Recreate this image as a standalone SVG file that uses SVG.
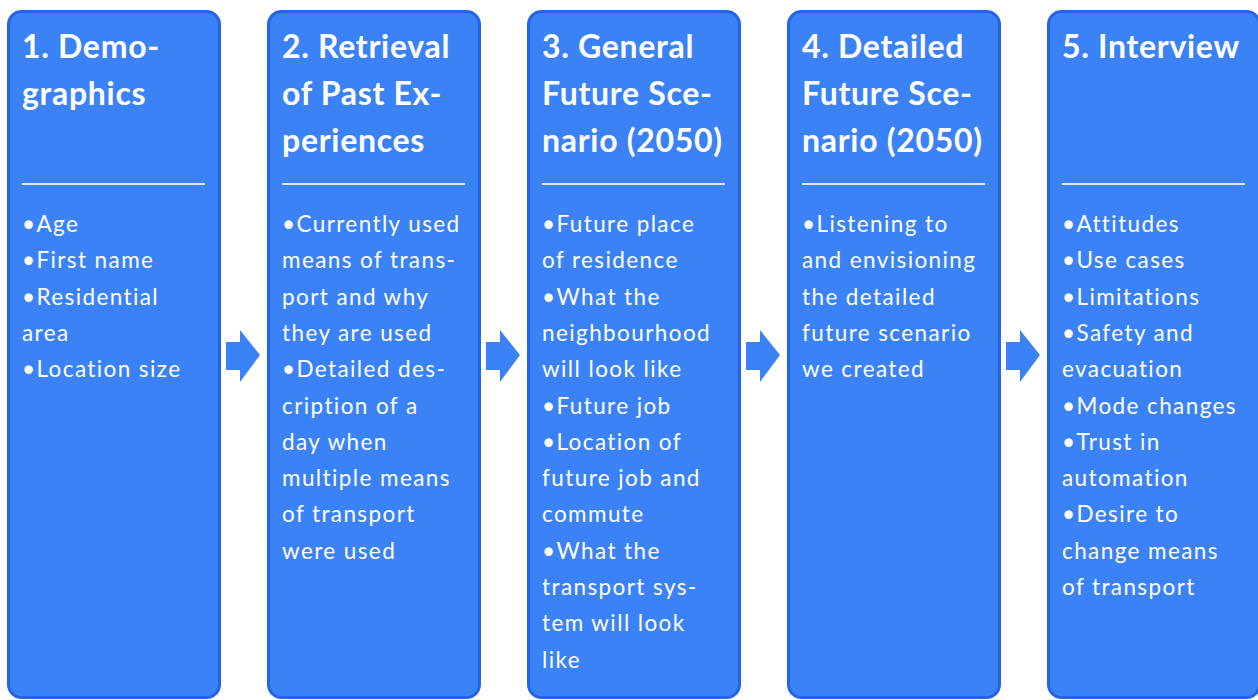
<svg xmlns="http://www.w3.org/2000/svg" width="1258" height="700" viewBox="0 0 1258 700">
  <style>
    .box { fill: #3b82f6; stroke: #2563eb; stroke-width: 3; }
    .sep { stroke: #dbeafe; stroke-width: 2; }
    .title { font-family: Lato, "Open Sans", sans-serif; font-weight: bold; font-size: 32px; letter-spacing: 0.7px; fill: #ffffff; }
    .body { font-family: Lato, "Open Sans", sans-serif; font-size: 22.5px; letter-spacing: 1.4px; fill: #ffffff; }
    .arrow { fill: #3b82f6; }
  </style>
  <defs>
    <!-- block arrow pointing right, origin at the shaft's left end -->
    <path id="step-arrow" class="arrow" d="M0,-13 L14,-13 L14,-25 L34,0 L14,27 L14,15 L0,15 Z"/>
  </defs>

  <!-- connectors between the steps -->
  <g id="connectors">
    <use href="#step-arrow" x="226" y="355"/>
    <use href="#step-arrow" x="486" y="355"/>
    <use href="#step-arrow" x="746" y="355"/>
    <use href="#step-arrow" x="1006" y="355"/>
  </g>

  <g id="step1">
    <rect class="box" x="8.5" y="11.5" width="211" height="686" rx="13"/>
    <text class="title"><tspan x="22" y="58">1. Demo-</tspan><tspan x="22" y="105">graphics</tspan></text>
    <line class="sep" x1="22" y1="184" x2="205" y2="184"/>
    <text class="body">
      <tspan x="22" y="232">•Age</tspan>
      <tspan x="22" y="268.3">•First name</tspan>
      <tspan x="22" y="304.6">•Residential</tspan>
      <tspan x="22" y="340.9">area</tspan>
      <tspan x="22" y="377.2">•Location size</tspan>
    </text>
  </g>

  <g id="step2">
    <rect class="box" x="268.5" y="11.5" width="211" height="686" rx="13"/>
    <text class="title"><tspan x="282" y="58">2. Retrieval</tspan><tspan x="282" y="105">of Past Ex-</tspan><tspan x="282" y="152">periences</tspan></text>
    <line class="sep" x1="282" y1="184" x2="465" y2="184"/>
    <text class="body">
      <tspan x="282" y="232">•Currently used</tspan>
      <tspan x="282" y="268.3">means of trans-</tspan>
      <tspan x="282" y="304.6">port and why</tspan>
      <tspan x="282" y="340.9">they are used</tspan>
      <tspan x="282" y="377.2">•Detailed des-</tspan>
      <tspan x="282" y="413.5">cription of a</tspan>
      <tspan x="282" y="449.8">day when</tspan>
      <tspan x="282" y="486.1">multiple means</tspan>
      <tspan x="282" y="522.4">of transport</tspan>
      <tspan x="282" y="558.7">were used</tspan>
    </text>
  </g>

  <g id="step3">
    <rect class="box" x="528.5" y="11.5" width="211" height="686" rx="13"/>
    <text class="title"><tspan x="542" y="58">3. General</tspan><tspan x="542" y="105">Future Sce-</tspan><tspan x="542" y="152">nario (2050)</tspan></text>
    <line class="sep" x1="542" y1="184" x2="725" y2="184"/>
    <text class="body">
      <tspan x="542" y="232">•Future place</tspan>
      <tspan x="542" y="268.3">of residence</tspan>
      <tspan x="542" y="304.6">•What the</tspan>
      <tspan x="542" y="340.9">neighbourhood</tspan>
      <tspan x="542" y="377.2">will look like</tspan>
      <tspan x="542" y="413.5">•Future job</tspan>
      <tspan x="542" y="449.8">•Location of</tspan>
      <tspan x="542" y="486.1">future job and</tspan>
      <tspan x="542" y="522.4">commute</tspan>
      <tspan x="542" y="558.7">•What the</tspan>
      <tspan x="542" y="595">transport sys-</tspan>
      <tspan x="542" y="631.3">tem will look</tspan>
      <tspan x="542" y="667.6">like</tspan>
    </text>
  </g>

  <g id="step4">
    <rect class="box" x="788.5" y="11.5" width="211" height="686" rx="13"/>
    <text class="title"><tspan x="802" y="58">4. Detailed</tspan><tspan x="802" y="105">Future Sce-</tspan><tspan x="802" y="152">nario (2050)</tspan></text>
    <line class="sep" x1="802" y1="184" x2="985" y2="184"/>
    <text class="body">
      <tspan x="802" y="232">•Listening to</tspan>
      <tspan x="802" y="268.3">and envisioning</tspan>
      <tspan x="802" y="304.6">the detailed</tspan>
      <tspan x="802" y="340.9">future scenario</tspan>
      <tspan x="802" y="377.2">we created</tspan>
    </text>
  </g>

  <g id="step5">
    <rect class="box" x="1048.5" y="11.5" width="211" height="686" rx="13"/>
    <text class="title"><tspan x="1062" y="58">5. Interview</tspan></text>
    <line class="sep" x1="1062" y1="184" x2="1245" y2="184"/>
    <text class="body">
      <tspan x="1062" y="232">•Attitudes</tspan>
      <tspan x="1062" y="268.3">•Use cases</tspan>
      <tspan x="1062" y="304.6">•Limitations</tspan>
      <tspan x="1062" y="340.9">•Safety and</tspan>
      <tspan x="1062" y="377.2">evacuation</tspan>
      <tspan x="1062" y="413.5">•Mode changes</tspan>
      <tspan x="1062" y="449.8">•Trust in</tspan>
      <tspan x="1062" y="486.1">automation</tspan>
      <tspan x="1062" y="522.4">•Desire to</tspan>
      <tspan x="1062" y="558.7">change means</tspan>
      <tspan x="1062" y="595">of transport</tspan>
    </text>
  </g>
</svg>
